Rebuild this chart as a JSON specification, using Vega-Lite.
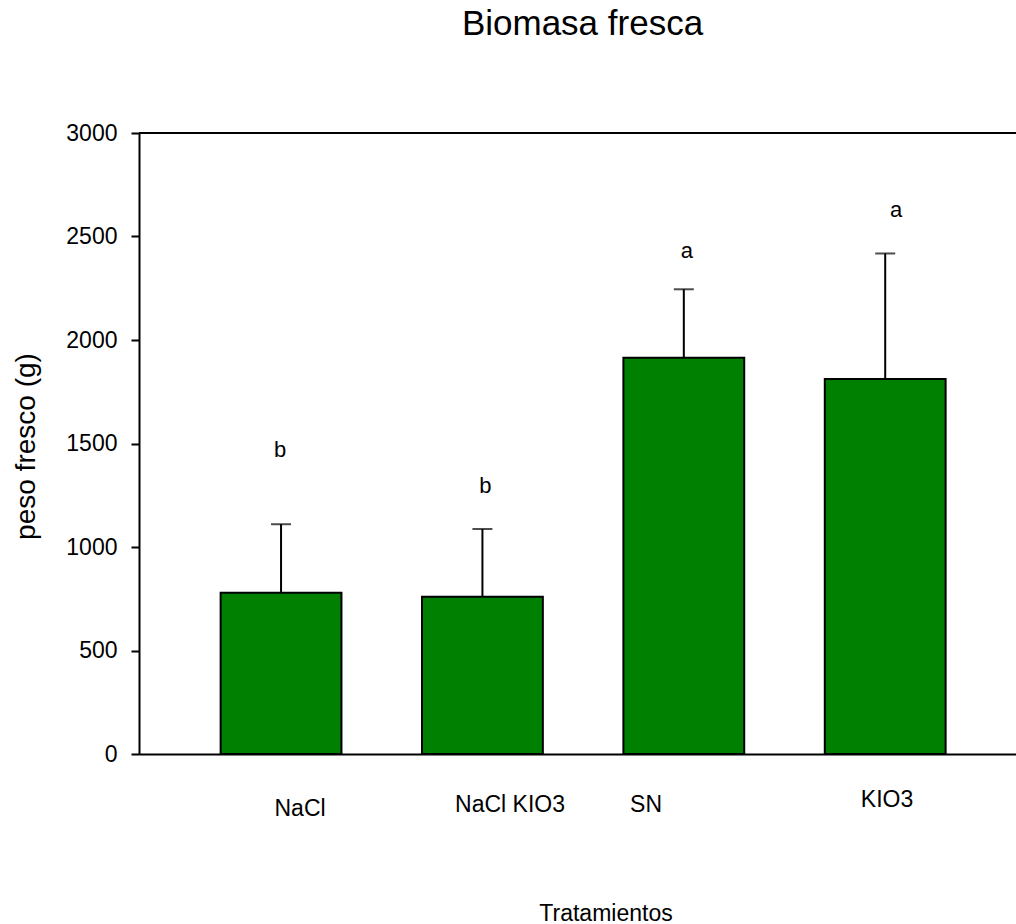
{
  "$schema": "https://vega.github.io/schema/vega-lite/v6.json",
  "width": 877,
  "height": 621,
  "autosize": {"type": "none"},
  "padding": {"left": 139, "top": 133, "right": 0, "bottom": 170},
  "background": "white",
  "config": {"view": {"stroke": null}, "font": "Liberation Sans"},
  "title": {
    "text": "Biomasa fresca",
    "fontSize": 35,
    "fontWeight": "normal",
    "font": "Liberation Sans",
    "color": "black",
    "anchor": "middle",
    "baseline": "alphabetic",
    "offset": 52,
    "dx": 5
  },
  "data": {
    "values": [
      {"tratamiento": "NaCl", "peso": 779, "sup": 1110, "letra": "b"},
      {"tratamiento": "NaCl KIO3", "peso": 760, "sup": 1087, "letra": "b"},
      {"tratamiento": "SN", "peso": 1914, "sup": 2245, "letra": "a"},
      {"tratamiento": "KIO3", "peso": 1811, "sup": 2418, "letra": "a"}
    ]
  },
  "layer": [
    {
      "data": {"values": [{}]},
      "mark": {"type": "rule", "color": "black", "strokeWidth": 2},
      "encoding": {"y": {"datum": 3000}}
    },
    {
      "mark": {"type": "bar", "fill": "#008000", "stroke": "black", "strokeWidth": 2},
      "encoding": {
        "x": {
          "field": "tratamiento",
          "type": "nominal",
          "sort": null,
          "scale": {"paddingInner": 0.4, "paddingOuter": 0.3774, "align": 0.537},
          "axis": {
            "title": "Tratamientos",
            "titleFont": "Liberation Sans",
            "titleFontSize": 23,
            "titleFontWeight": "normal",
            "titleColor": "black",
            "titleX": 466.5,
            "titleY": 166,
            "titleAlign": "center",
            "titleBaseline": "alphabetic",
            "labelAngle": 0,
            "labelFont": "Liberation Sans",
            "labelFontSize": 23,
            "labelColor": "black",
            "labelBaseline": "alphabetic",
            "labelOffset": {
              "condition": [
                {"test": "datum.value === 'NaCl'", "value": 19},
                {"test": "datum.value === 'NaCl KIO3'", "value": 27.6},
                {"test": "datum.value === 'SN'", "value": -37.8}
              ],
              "value": 1.8
            },
            "labelPadding": {
              "condition": [
                {"test": "datum.value === 'NaCl'", "value": 61},
                {"test": "datum.value === 'KIO3'", "value": 52}
              ],
              "value": 57
            },
            "labelOverlap": false,
            "labelBound": false,
            "ticks": false,
            "domainColor": "black",
            "domainWidth": 2,
            "grid": false
          }
        },
        "y": {
          "field": "peso",
          "type": "quantitative",
          "scale": {"domain": [0, 3000], "nice": false},
          "axis": {
            "title": "peso fresco (g)",
            "titleFont": "Liberation Sans",
            "titleFontSize": 28,
            "titleFontWeight": "normal",
            "titleColor": "black",
            "titleAngle": -90,
            "titleX": -105,
            "titleY": 313,
            "titleAlign": "center",
            "titleBaseline": "alphabetic",
            "values": [0, 500, 1000, 1500, 2000, 2500, 3000],
            "format": "d",
            "labelFont": "Liberation Sans",
            "labelFontSize": 23,
            "labelColor": "black",
            "labelPadding": 14,
            "tickSize": 8,
            "tickWidth": 2,
            "tickColor": "black",
            "domainColor": "black",
            "domainWidth": 2,
            "grid": false
          }
        }
      }
    },
    {
      "mark": {"type": "rule", "color": "black", "strokeWidth": 2},
      "encoding": {
        "x": {"field": "tratamiento", "type": "nominal", "sort": null},
        "y": {"field": "peso", "type": "quantitative"},
        "y2": {"field": "sup"}
      }
    },
    {
      "mark": {"type": "tick", "orient": "horizontal", "color": "black", "size": 20, "thickness": 2},
      "encoding": {
        "x": {"field": "tratamiento", "type": "nominal", "sort": null},
        "y": {"field": "sup", "type": "quantitative"}
      }
    },
    {
      "mark": {
        "type": "text",
        "font": "Liberation Sans",
        "fontSize": 22,
        "color": "black",
        "align": "center",
        "baseline": "alphabetic",
        "dx": {"expr": "datum.tratamiento === 'KIO3' ? 11 : datum.tratamiento === 'NaCl' ? -1 : 3"},
        "dy": {"expr": "datum.tratamiento === 'NaCl' ? -67 : datum.tratamiento === 'SN' ? -31 : -36"}
      },
      "encoding": {
        "x": {"field": "tratamiento", "type": "nominal", "sort": null},
        "y": {"field": "sup", "type": "quantitative"},
        "text": {"field": "letra"}
      }
    }
  ]
}
